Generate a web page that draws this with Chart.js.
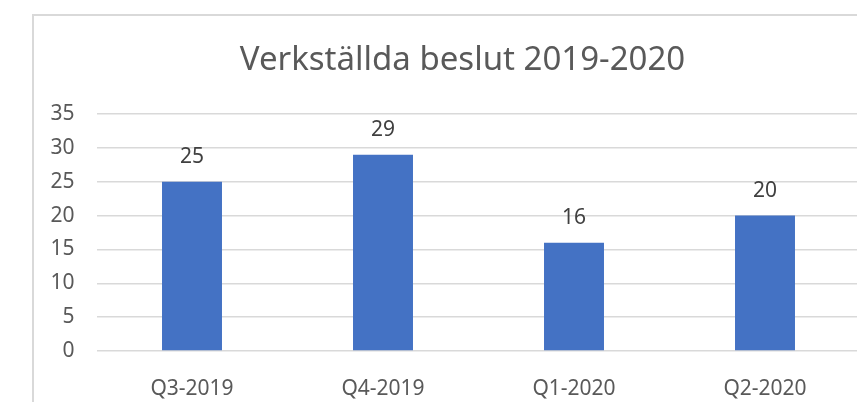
<!DOCTYPE html>
<html>
<head>
<meta charset="utf-8">
<script src="https://cdn.jsdelivr.net/npm/chart.js@4"></script>
<style>
  html, body { margin: 0; padding: 0; background: #ffffff; overflow: hidden; width: 857px; height: 402px; }
  #wrap { position: absolute; left: 0; top: 0; width: 880px; height: 402px; }
  #frame { position: absolute; left: 32px; top: 14px; width: 900px; height: 500px; border: 2px solid #d9d9d9; box-sizing: border-box; pointer-events: none; }
</style>
</head>
<body>
<div id="frame"></div>
<div id="wrap"><canvas id="c"></canvas></div>
<script>
const titleText = "Verkställda beslut 2019-2020";
const categories = ["Q3-2019", "Q4-2019", "Q1-2020", "Q2-2020"];
const values = [25, 29, 16, 20];
const yTicks = [0, 5, 10, 15, 20, 25, 30, 35];

const FONT = "'Noto Sans', 'Open Sans', sans-serif";

const valueLabels = {
  id: 'valueLabels',
  afterDatasetsDraw(chart) {
    const ctx = chart.ctx;
    const meta = chart.getDatasetMeta(0);
    ctx.save();
    ctx.font = "21px " + FONT;
    ctx.fillStyle = "#404040";
    ctx.textAlign = "center";
    ctx.textBaseline = "middle";
    meta.data.forEach((bar, i) => {
      ctx.fillText(String(values[i]), bar.x, bar.y - 25);
    });
    ctx.restore();
  }
};

const chartTitle = {
  id: 'chartTitle',
  afterDraw(chart) {
    const ctx = chart.ctx;
    ctx.save();
    ctx.font = "33px " + FONT;
    ctx.fillStyle = "#595959";
    ctx.textAlign = "center";
    ctx.textBaseline = "middle";
    ctx.fillText(titleText, 462.5, 61);
    ctx.restore();
  }
};

new Chart(document.getElementById('c'), {
  type: 'bar',
  data: {
    labels: categories,
    datasets: [{
      data: values,
      backgroundColor: '#4472C4',
      borderWidth: 0,
      categoryPercentage: 1,
      barPercentage: 0.314
    }]
  },
  options: {
    responsive: true,
    maintainAspectRatio: false,
    animation: false,
    layout: { padding: { left: 0, right: 19.5, top: 114, bottom: 0 } },
    plugins: {
      legend: { display: false },
      tooltip: { enabled: false },
      title: { display: false }
    },
    scales: {
      x: {
        grid: { display: false },
        border: { display: false },
        ticks: { color: '#595959', font: { family: FONT, size: 21 }, padding: 17, maxRotation: 0 },
        afterFit(scale) { scale.height = 51; }
      },
      y: {
        min: 0,
        max: 35,
        afterBuildTicks(scale) { scale.ticks = yTicks.map(v => ({ value: v })); },
        grid: { color: '#d9d9d9', lineWidth: 1.5, drawTicks: false },
        border: { display: false },
        ticks: { color: '#595959', font: { family: FONT, size: 21 }, padding: 22 },
        afterFit(scale) { scale.width = 96.5; }
      }
    }
  },
  plugins: [valueLabels, chartTitle]
});
</script>
</body>
</html>
